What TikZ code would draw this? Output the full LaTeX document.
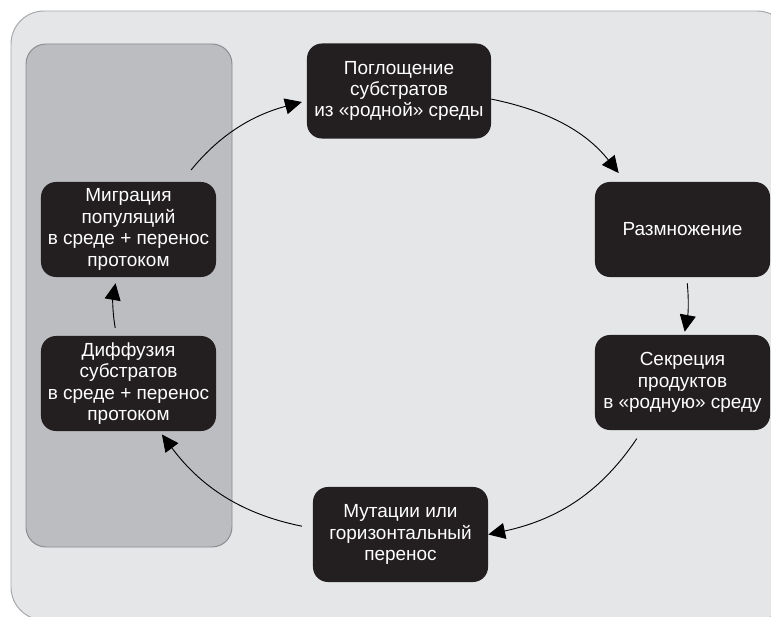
\documentclass[tikz,border=0pt]{standalone}
\usepackage{fontspec}
\setmainfont{Liberation Sans}
\usetikzlibrary{arrows.meta}

\definecolor{outerbg}{HTML}{E5E6E8}
\definecolor{outerline}{HTML}{A7A9AC}
\definecolor{panelbg}{HTML}{BCBDC0}
\definecolor{panelline}{HTML}{8A8C8F}
\definecolor{boxfill}{HTML}{231F20}

\begin{document}
\begin{tikzpicture}[x=0.025cm,y=0.025cm,
  stage/.style={rectangle,rounded corners=0.375cm,fill=boxfill,text=white,
    align=center,minimum width=4.375cm,minimum height=2.375cm,inner sep=1pt,
    font=\fontsize{13.5}{15.2}\selectfont},
  flow/.style={line width=0.65pt,-{Triangle[length=4.2mm,width=4mm]}}]
\clip (0,0) rectangle (771,-617);
\fill[white] (0,0) rectangle (771,-617);

% background and left panel
\draw[outerline,fill=outerbg,line width=0.7pt,rounded corners=0.825cm]
    (11,-11) rectangle (790,-620);
\draw[panelline,fill=panelbg,line width=0.7pt,rounded corners=0.5cm]
    (26,-44) rectangle (232,-547);

% stages
\node[stage,minimum width=4.6cm] (absorb) at (399,-91) {Поглощение\\субстратов\\из «родной» среды};
\node[stage] (repro) at (682.5,-229.5) {Размножение};
\node[stage] (secr) at (682.5,-382.5) {Секреция\\продуктов\\в «родную» среду};
\node[stage] (mut) at (400.5,-534.5) {Мутации или\\горизонтальный\\перенос};
\node[stage] (diff) at (128.5,-383.5) {Диффузия\\субстратов\\в среде + перенос\\протоком};
\node[stage] (migr) at (128.5,-229.5) {Миграция\\популяций\\в среде + перенос\\протоком};

% cycle
\draw[flow,shorten <=0.375cm,shorten >=0.125cm] (migr.42) to[bend left=18] (absorb.186);
\draw[flow,shorten <=0pt,shorten >=0.275cm] (absorb.-5) to[bend left=20] (repro.140);
\draw[flow,shorten <=0.15cm,shorten >=0.075cm] (repro.-85) to[bend left=8] (secr.88);
\draw[flow,shorten <=0.25cm,shorten >=0pt] (secr.-130) to[bend left=22] (mut.east);
\draw[flow,shorten <=0.275cm,shorten >=0.1cm] (mut.176) to[bend left=21] (diff.-57);
\draw[flow,shorten <=0.2cm,shorten >=0.15cm] (diff.104) to[bend left=10] (migr.-104);
\end{tikzpicture}
\end{document}
